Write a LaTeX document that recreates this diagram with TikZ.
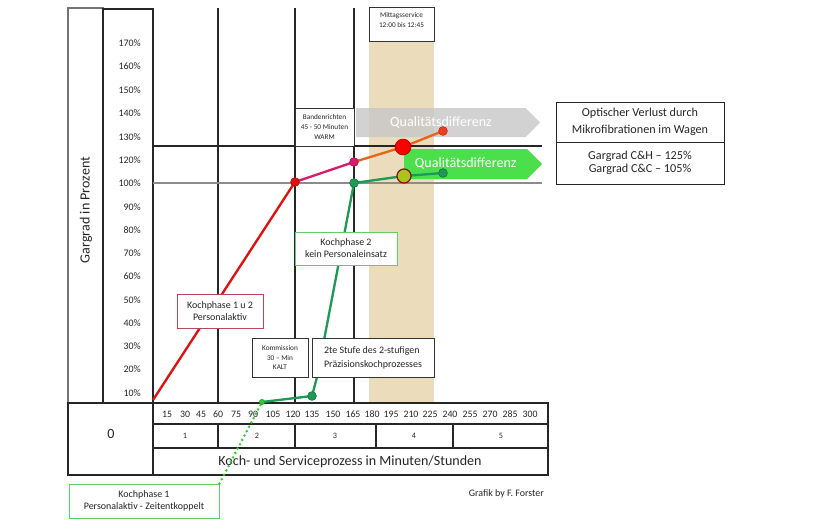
\documentclass[tikz,border=0pt]{standalone}
\usepackage{fontspec}
\setmainfont{Carlito}
\usetikzlibrary{shapes.symbols}
\definecolor{tanband}{HTML}{EBDDBC}
\definecolor{redline}{HTML}{E01010}
\definecolor{pinkline}{HTML}{D81B6A}
\definecolor{orangeline}{HTML}{E8641C}
\definecolor{endred}{HTML}{F03C20}
\definecolor{darkgreen}{HTML}{1E9A55}
\definecolor{dotgreen}{HTML}{33CC33}
\definecolor{brightgreen}{HTML}{4CDF4C}
\definecolor{yellowgreen}{HTML}{A6C61C}
\definecolor{boxred}{HTML}{B84858}
\definecolor{boxgreen}{HTML}{66CC66}
\begin{document}
\begin{tikzpicture}[x=0.03cm,y=-0.03cm,
    gridline/.style={line width=1pt,black!85},
    tbl/.style={line width=1.4pt,black!85},
    lbl/.style={font=\fontsize{8.5}{10.2}\selectfont,text=black!85},
    tinytext/.style={font=\fontsize{6.2}{8.5}\selectfont,text=black!85},
    note/.style={draw=#1,fill=white,line width=0.8pt,align=center,inner sep=1pt},
    dot/.style={circle,fill=#1,draw=#1!75!black,line width=0.5pt,inner sep=0pt,minimum size=7.5pt},
    banner/.style={signal,signal to=east,fill=#1,inner sep=0pt,anchor=west,
      text=white,font=\fontsize{12}{14}\selectfont}]
  \useasboundingbox (0,0) rectangle (828,529);
  % Mittagsservice
  \fill[tanband] (369,42) rectangle (434,402);
  \draw[line width=0.8pt,black!80] (369,7) rectangle (434,41);
  \node[tinytext,align=center] (mittag) at (401.5,20.5) {Mittagsservice\\12:00 bis 12:45};
  % left columns
  \draw[gridline,black!55] (68,8) rectangle (103,403);
  \draw[gridline] (103,9) rectangle (153,403);
  \node[rotate=90,font=\fontsize{12}{14}\selectfont,text=black!85] (ytitle) at (86,210) {Gargrad in Prozent};
  \foreach \p/\y in {170/43,160/66,150/90,140/113,130/137,120/160,100/183,
      90/207,80/230,70/253,60/276,50/300,40/323,30/346,20/369,10/393}
    \node[lbl,anchor=east] (p\p) at (145,\y) {\p\%};
  % grid
  \foreach \x in {218,295,354}
    \draw[gridline] (\x,8) -- (\x,403);
  \draw[gridline] (153,146) -- (542,146);
  \draw[gridline,black!45] (153,183) -- (542,183);
  % table
  \draw[tbl] (153,403) rectangle (548,475);
  \draw[tbl] (153,424) -- (548,424) (153,448) -- (548,448);
  \foreach \x in {218,295,376,453}
    \draw[gridline] (\x,424) -- (\x,448);
  \draw[tbl] (68,403) rectangle (153,475);
  \node[font=\fontsize{12}{14}\selectfont,text=black!85] (zero) at (111,434) {0};
  \foreach \m/\x in {15/167,30/185,45/201,60/218,75/236,90/253,105/273,120/293,
      135/312,150/333,165/353,180/372,195/391,210/411,225/430,240/450,
      255/470,270/490,285/510,300/530}
    \node[font=\fontsize{8.4}{10}\selectfont,text=black!85] (m\m) at (\x,414) {\m};
  \foreach \h/\x in {1/185,2/257,3/335,4/414,5/501}
    \node[font=\fontsize{7}{8}\selectfont,text=black!85] (h\h) at (\x,436) {\h};
  \node[font=\fontsize{12}{14}\selectfont,text=black!85] (xtitle) at (350,462) {Koch- und Serviceprozess in Minuten/Stunden};
  \node[lbl,anchor=east] (credit) at (548,494) {Grafik by F. Forster};
  % Qualitaetsdifferenz
  \node[banner=black!22,opacity=0.8,text opacity=1,minimum width=5.52cm,minimum height=0.87cm] (qgray) at (356,122.5) {Qualitätsdifferenz};
  \node[banner=brightgreen,minimum width=4.14cm,minimum height=0.9cm] (qgreen) at (404,164) {Qualitätsdifferenz};
  % curves
  \coordinate (r0) at (153,400);
  \coordinate (r1) at (295,182);
  \coordinate (r2) at (354,162);
  \coordinate (r3) at (403,147);
  \coordinate (r4) at (443,131);
  \draw[redline,line width=2pt] (r0) -- (r1);
  \draw[pinkline,line width=2pt] (r1) -- (r2);
  \draw[orangeline,line width=2pt] (r2) -- (r3) -- (r4);
  \coordinate (g1) at (262,402);
  \coordinate (g2) at (312,396);
  \coordinate (g3) at (317,377);
  \coordinate (g4) at (354,183);
  \coordinate (g5) at (404,176);
  \coordinate (g6) at (443,173);
  \draw[darkgreen,line width=2pt] (g1) -- (g2) -- (g3) -- (g4) -- (g5) -- (g6);
  % boxes
  \node[note=black!80,tinytext,minimum width=1.77cm,minimum height=1.14cm] (banden) at (324.5,127) {Bandenrichten\\45 - 50 Minuten\\WARM};
  \node[note=black!85,font=\fontsize{10.4}{14}\selectfont,text=black!85,
    minimum width=5.04cm,minimum height=1.2cm] (optisch) at (640,122) {Optischer Verlust durch\\Mikrofibrationen im Wagen};
  \node[note=black!85,font=\fontsize{10.4}{11.5}\selectfont,text=black!85,
    minimum width=5.04cm,minimum height=1.26cm] (gargrad) at (640,163) {Gargrad C\&H – 125\%\\Gargrad C\&C – 105\%};
  \node[note=boxred,lbl,minimum width=2.58cm,minimum height=1.02cm] (kp12) at (220,311) {Kochphase 1 u 2\\Personalaktiv};
  \node[note=boxgreen,lbl,minimum width=3.06cm,minimum height=0.99cm] (kp2) at (346,248.5) {Kochphase 2\\kein Personaleinsatz};
  \node[note=black!80,tinytext,minimum width=1.68cm,minimum height=1.17cm] (kommission) at (280,357.5) {Kommission\\30 – Min\\KALT};
  \node[note=black!80,lbl,align=left,font=\fontsize{8.5}{12}\selectfont,minimum width=3.66cm,minimum height=1.17cm] (stufe) at (373,357.5) {2te Stufe des 2-stufigen\\Präzisionskochprozesses};
  \node[note=boxgreen,lbl,minimum width=4.5cm,minimum height=1.02cm] (kp1) at (144,501) {Kochphase 1\\Personalaktiv - Zeitentkoppelt};
  \draw[dotgreen,line width=2.4pt,line cap=round,dash pattern=on 0pt off 4.2pt] (kp1.north east) -- (g1);
  % dots
  \node[dot=redline] (dr1) at (r1) {};
  \node[dot=pinkline] (dr2) at (r2) {};
  \node[circle,fill=red,draw=red!75!black,line width=0.6pt,inner sep=0pt,minimum size=13.5pt] (dr3) at (r3) {};
  \node[dot=endred] (dr4) at (r4) {};
  \node[dot=dotgreen,minimum size=4.5pt] (dg1) at (g1) {};
  \node[dot=darkgreen] (dg2) at (g2) {};
  \node[dot=darkgreen] (dg4) at (g4) {};
  \node[circle,fill=yellowgreen,draw=red!60!black,line width=1pt,inner sep=0pt,minimum size=12pt] (dg5) at (g5) {};
  \node[dot=darkgreen] (dg6) at (g6) {};
\end{tikzpicture}
\end{document}
